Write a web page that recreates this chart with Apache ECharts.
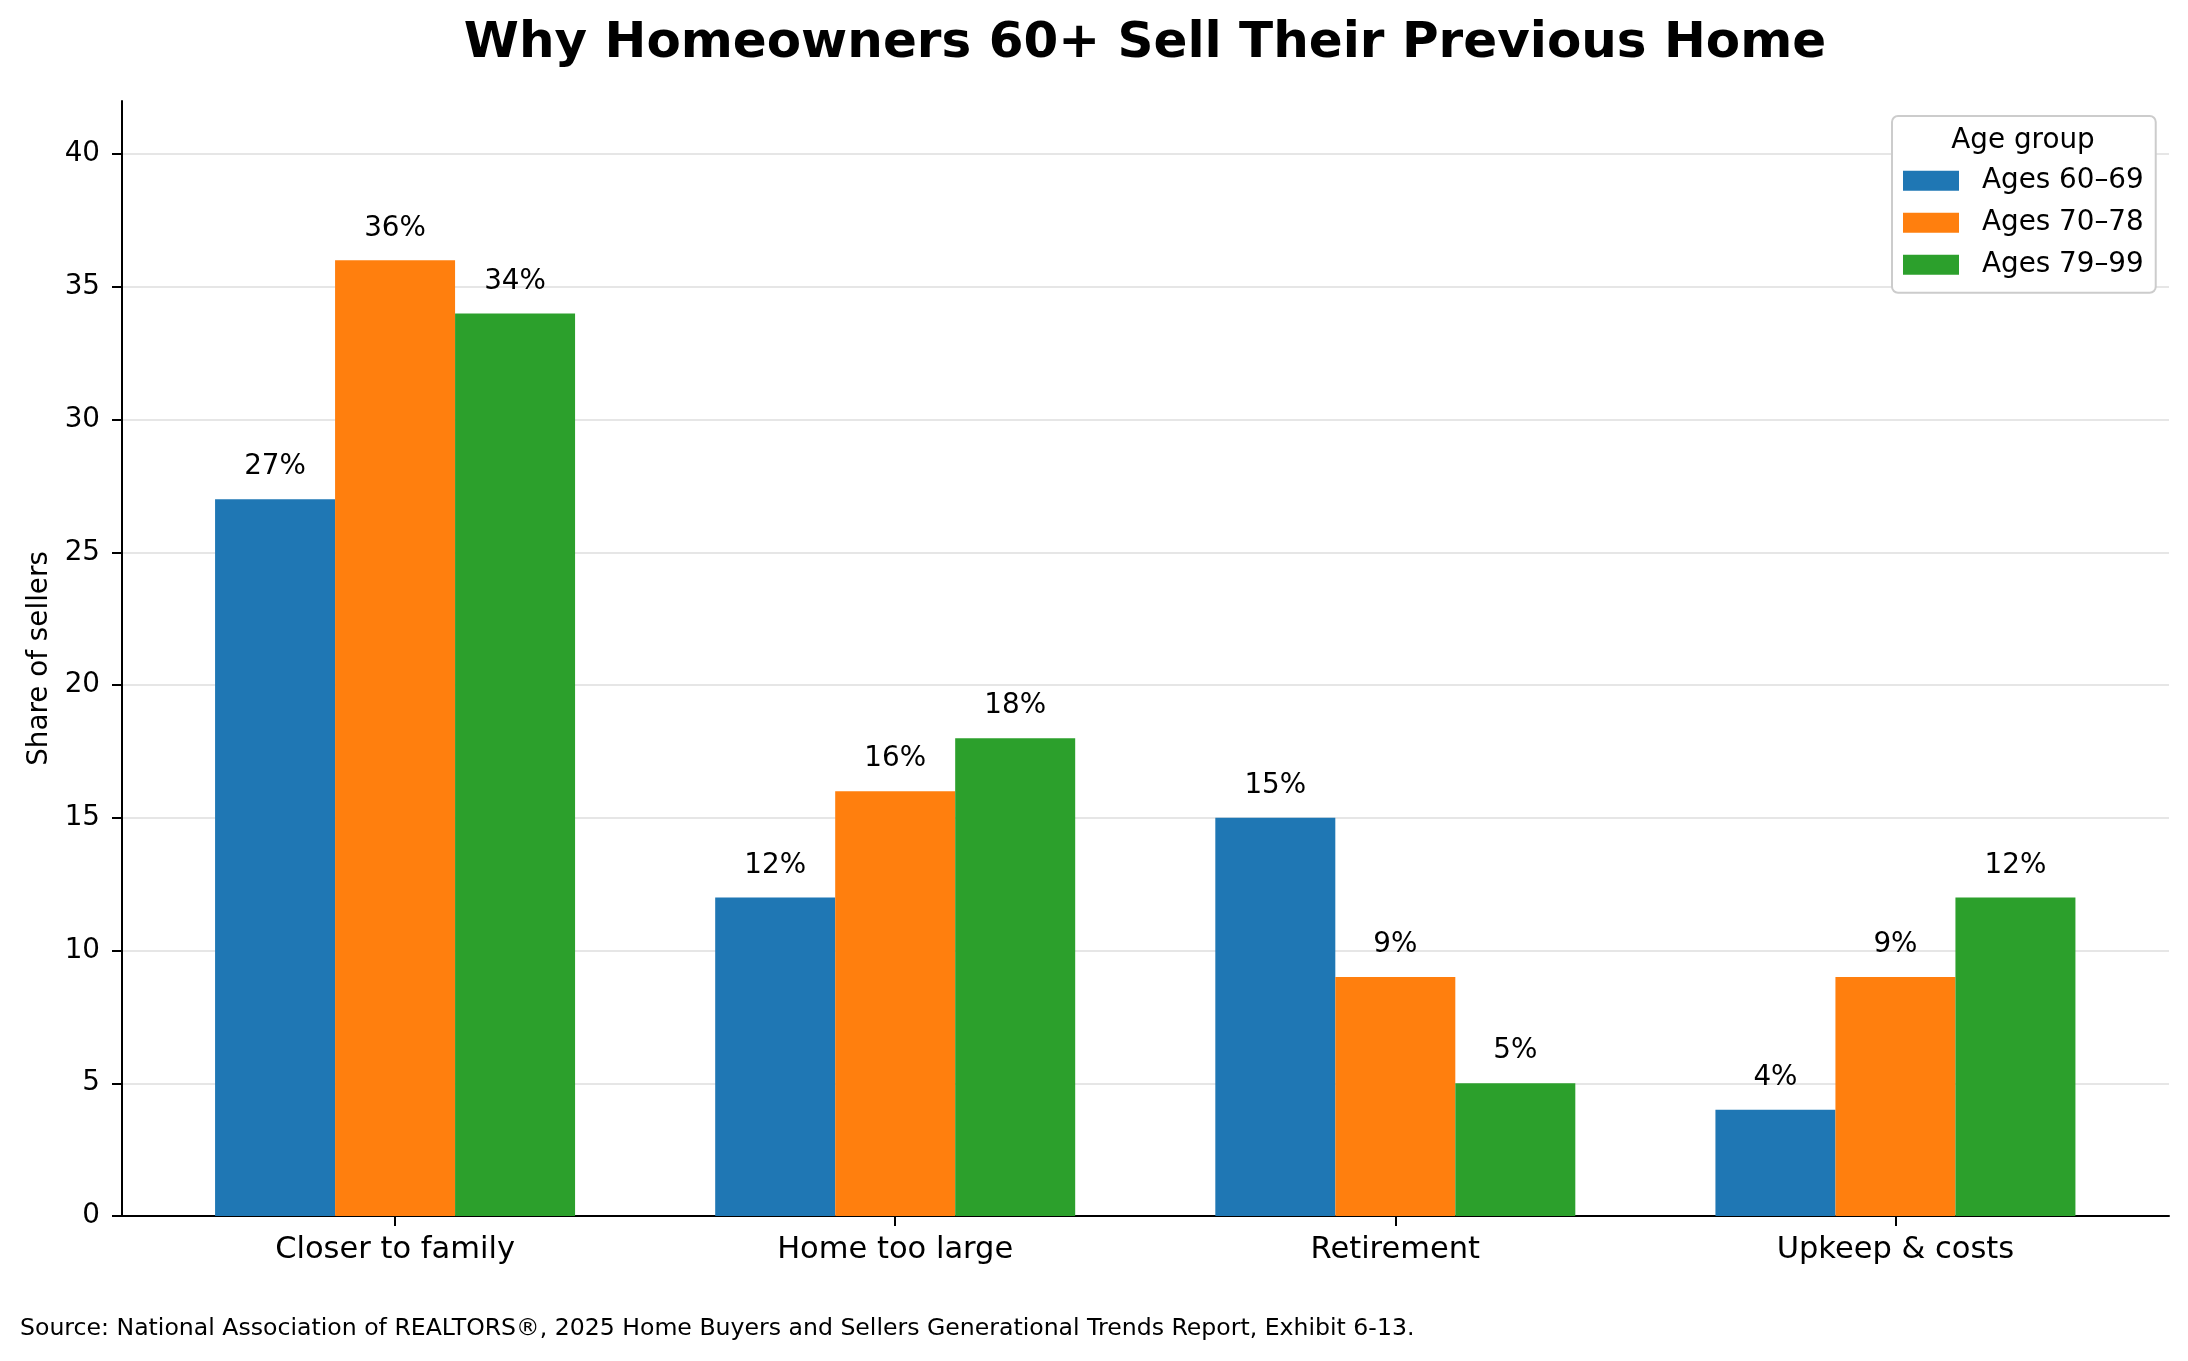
<!DOCTYPE html>
<html>
	<head>
		<title>Why Homeowners 60+ Sell Their Previous Home</title>
        <meta charset="utf-8">
        <script src="https://cdn.jsdelivr.net/npm/echarts@6/dist/echarts.min.js"></script>
        <style>
            html, body { margin: 0; padding: 0; background: #fff; }
        </style>
	</head>

	<body>
        <div id="main" style="width: 2188px; height: 1361px;"></div>
	</body>
</html>

<script type="text/javascript">

    // reasons (x categories)
    var reasons = ['Closer to family', 'Home too large', 'Retirement', 'Upkeep & costs'];
    // share of sellers, %
    var ages6069 = [27, 12, 15, 4];
    var ages7078 = [36, 16, 9, 9];
    var ages7999 = [34, 18, 5, 12];
    var yTicks = [0, 5, 10, 15, 20, 25, 30, 35, 40];
    var xTicks = [0, 1, 2, 3];

    var font = 'DejaVu Sans';

    // bars on a value axis so the group spacing matches the original
    function toPoints(arr) {
        return arr.map(function (v, i) { return [i, v]; });
    }

    function barSeries(name, color, values) {
        return {
            name: name,
            type: 'bar',
            data: toPoints(values),
            barWidth: 120,
            barGap: '0%',
            itemStyle: { color: color },
            label: {
                show: true,
                position: 'top',
                distance: 18,
                color: '#000',
                fontFamily: font,
                fontSize: 27.8,
                formatter: function (p) { return p.value[1] + '%'; }
            }
        };
    }

    var myChart = echarts.init(document.getElementById('main'), null, { renderer: 'canvas' });

    var option = {
        animation: false,
        backgroundColor: '#fff',
        title: [
            {
                text: 'Why Homeowners 60+ Sell Their Previous Home',
                left: 1145,
                top: 19,
                padding: 0,
                textAlign: 'center',
                textStyle: { fontFamily: font, fontSize: 50, fontWeight: 'bold', color: '#000' }
            },
            {
                text: 'Age group',
                left: 2023,
                top: 127,
                padding: 0,
                z: 10,
                textAlign: 'center',
                textStyle: { fontFamily: font, fontSize: 27.8, fontWeight: 'normal', color: '#000' }
            },
            {
                text: 'Source: National Association of REALTORS®, 2025 Home Buyers and Sellers Generational Trends Report, Exhibit 6-13.',
                left: 20,
                top: 1317,
                padding: 0,
                textStyle: { fontFamily: font, fontSize: 23.6, fontWeight: 'normal', color: '#000' }
            }
        ],
        legend: {
            orient: 'vertical',
            left: 1892,
            top: 116,
            padding: [50.7, 12, 14, 11],
            itemGap: 14,
            itemWidth: 56,
            itemHeight: 20,
            icon: 'rect',
            backgroundColor: '#fff',
            borderColor: '#cccccc',
            borderWidth: 2,
            borderRadius: 6,
            textStyle: {
                fontFamily: font,
                fontSize: 27.8,
                color: '#000',
                padding: [0, 0, 0, 18]
            },
            data: ['Ages 60–69', 'Ages 70–78', 'Ages 79–99']
        },
        grid: {
            left: 122,
            right: 19,
            top: 101,
            bottom: 145
        },
        xAxis: {
            type: 'value',
            min: -0.546,
            max: 3.547,
            axisLine: { onZero: false, lineStyle: { color: '#000', width: 2 } },
            axisTick: { length: 10, lineStyle: { color: '#000', width: 2 }, customValues: xTicks },
            axisLabel: {
                customValues: xTicks,
                margin: 19,
                color: '#000',
                fontFamily: font,
                fontSize: 30.5,
                formatter: function (v) { return reasons[Math.round(v)]; }
            },
            splitLine: { show: false }
        },
        yAxis: {
            type: 'value',
            min: 0,
            max: 42,
            name: 'Share of sellers',
            nameLocation: 'middle',
            nameRotate: 90,
            nameGap: 66,
            nameTextStyle: { fontFamily: font, fontSize: 27.8, color: '#000' },
            axisLine: { show: true, onZero: false, lineStyle: { color: '#000', width: 2 } },
            axisTick: { show: true, length: 10, lineStyle: { color: '#000', width: 2 }, customValues: yTicks },
            axisLabel: {
                customValues: yTicks,
                margin: 22,
                color: '#000',
                fontFamily: font,
                fontSize: 27.8
            },
            splitLine: { show: true, lineStyle: { color: '#e6e6e6', width: 2 } }
        },
        series: [
            barSeries('Ages 60–69', '#1f77b4', ages6069),
            barSeries('Ages 70–78', '#ff7f0e', ages7078),
            barSeries('Ages 79–99', '#2ca02c', ages7999)
        ]
    };

    myChart.setOption(option);
</script>
